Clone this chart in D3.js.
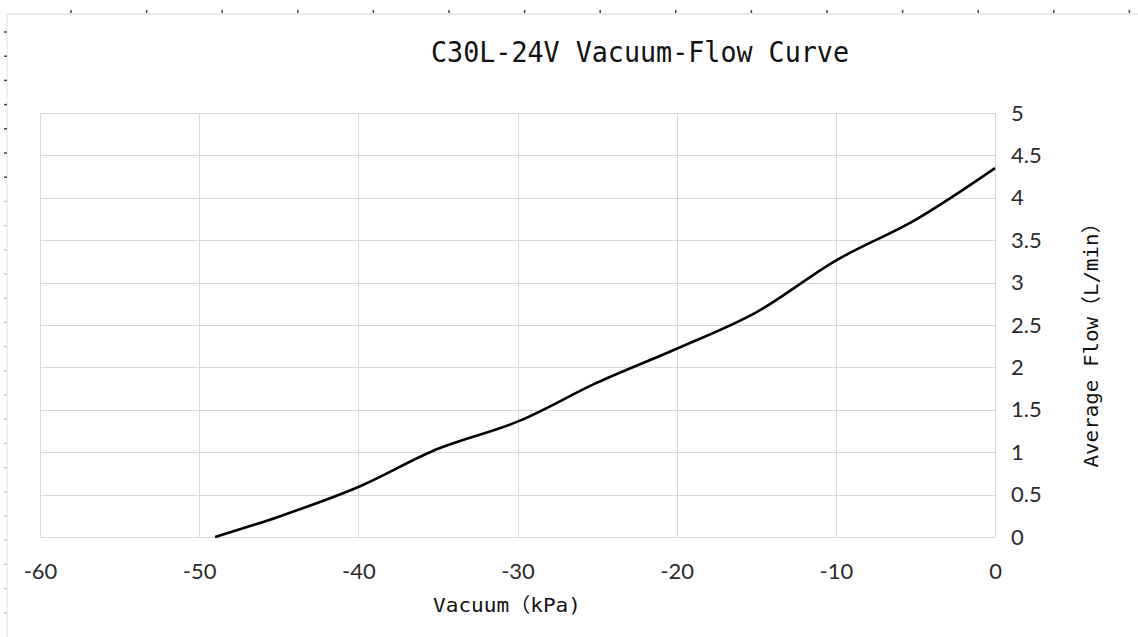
<!DOCTYPE html>
<html>
<head>
<meta charset="utf-8">
<script src="https://cdn.jsdelivr.net/npm/d3@7"></script>
<style>
  body { margin: 0; background: #fff; }
  svg { display: block; }
</style>
</head>
<body>
<svg width="1138" height="637"></svg>
<script>
// data
var vacuum = [-49, -45, -40, -35, -30, -25, -20, -15, -10, -5, 0];
var flow   = [0, 0.24, 0.59, 1.04, 1.36, 1.82, 2.22, 2.65, 3.26, 3.74, 4.35];
var xTicks = [-60, -50, -40, -30, -20, -10, 0];
var yTicks = [0, 0.5, 1, 1.5, 2, 2.5, 3, 3.5, 4, 4.5, 5];
var titleText = "C30L-24V Vacuum-Flow Curve";
var xTitle = "Vacuum\uFF08kPa)";
var yTitle = "Average Flow\uFF08L/min\uFF09";

var svg = d3.select("svg"),
    width = +svg.attr("width"),
    height = +svg.attr("height");

var margin = {left: 40, right: 143, top: 113, bottom: 100};
var plotW = width - margin.left - margin.right,
    plotH = height - margin.top - margin.bottom;

// window-ish frame with ruler marks
var frame = svg.append("g");
frame.append("line").attr("x1", 7).attr("x2", width).attr("y1", 14).attr("y2", 14)
    .style("stroke", "#d4d4d4");
frame.append("line").attr("x1", 7).attr("x2", 7).attr("y1", 14).attr("y2", height)
    .style("stroke", "#e0e0e0");
frame.selectAll(".rx").data(d3.range(15)).enter().append("line")
    .attr("x1", function(i) { return 71 + i * 75.6; })
    .attr("x2", function(i) { return 71 + i * 75.6; })
    .attr("y1", 10).attr("y2", 13)
    .style("stroke", "#444").style("stroke-width", 1.5);
frame.selectAll(".ry").data(d3.range(25)).enter().append("line")
    .attr("x1", 4).attr("x2", 7)
    .attr("y1", function(i) { return 32 + i * 24.2; })
    .attr("y2", function(i) { return 32 + i * 24.2; })
    .style("stroke", function(i) { return i < 7 ? "#444" : "#c8c8c8"; })
    .style("stroke-width", 1.5);

var g = svg.append("g").attr("transform", "translate(" + margin.left + "," + margin.top + ")");

var x = d3.scaleLinear().domain([-60, 0]).range([0, plotW]);
var y = d3.scaleLinear().domain([0, 5]).range([plotH, 0]);

// grid
g.selectAll(".gx").data(xTicks).enter().append("line")
    .attr("x1", function(d) { return Math.round(x(d)) + 0.5; })
    .attr("x2", function(d) { return Math.round(x(d)) + 0.5; })
    .attr("y1", 0).attr("y2", plotH)
    .style("stroke", "#d9d9d9");
g.selectAll(".gy").data(yTicks).enter().append("line")
    .attr("x1", 0).attr("x2", plotW)
    .attr("y1", function(d) { return Math.round(y(d)) + 0.5; })
    .attr("y2", function(d) { return Math.round(y(d)) + 0.5; })
    .style("stroke", "#d9d9d9");

// axes (labels only)
var xAxis = g.append("g").attr("transform", "translate(0," + plotH + ")")
    .call(d3.axisBottom(x).tickValues(xTicks).tickSize(0).tickPadding(26));
var yAxis = g.append("g").attr("transform", "translate(" + plotW + ",0)")
    .call(d3.axisRight(y).tickValues(yTicks).tickSize(0).tickPadding(16).tickFormat(function(d) { return d; }));
[xAxis, yAxis].forEach(function(a) {
  a.select(".domain").remove();
  a.selectAll("text")
      .style("font-family", "Lato, 'Open Sans', sans-serif")
      .style("font-size", "22px")
      .style("fill", "#2b2b2b");
});
xAxis.selectAll("text").text(function(d) { return String(d); });

// curve
var line = d3.line()
    .x(function(d, i) { return x(vacuum[i]); })
    .y(function(d) { return y(d); })
    .curve(d3.curveCatmullRom.alpha(0.5));

g.append("path")
    .datum(flow)
    .attr("d", line)
    .style("fill", "none")
    .style("stroke", "#000")
    .style("stroke-width", 2.6);

// titles
svg.append("text")
    .attr("x", 640).attr("y", 62)
    .attr("text-anchor", "middle")
    .attr("textLength", 418).attr("lengthAdjust", "spacingAndGlyphs")
    .style("font-family", "'DejaVu Sans Mono', monospace")
    .style("font-size", "29px")
    .style("fill", "#111")
    .text(titleText);

svg.append("text")
    .attr("x", 507).attr("y", 612)
    .attr("text-anchor", "middle")
    .attr("textLength", 148).attr("lengthAdjust", "spacingAndGlyphs")
    .style("font-family", "'DejaVu Sans Mono', 'Noto Sans CJK SC', monospace")
    .style("font-size", "20px")
    .style("fill", "#111")
    .text(xTitle);

svg.append("text")
    .attr("transform", "translate(1098,340) rotate(-90)")
    .attr("text-anchor", "middle")
    .attr("textLength", 255).attr("lengthAdjust", "spacingAndGlyphs")
    .style("font-family", "'DejaVu Sans Mono', 'Noto Sans CJK SC', monospace")
    .style("font-size", "20px")
    .style("fill", "#111")
    .text(yTitle);
</script>
</body>
</html>
